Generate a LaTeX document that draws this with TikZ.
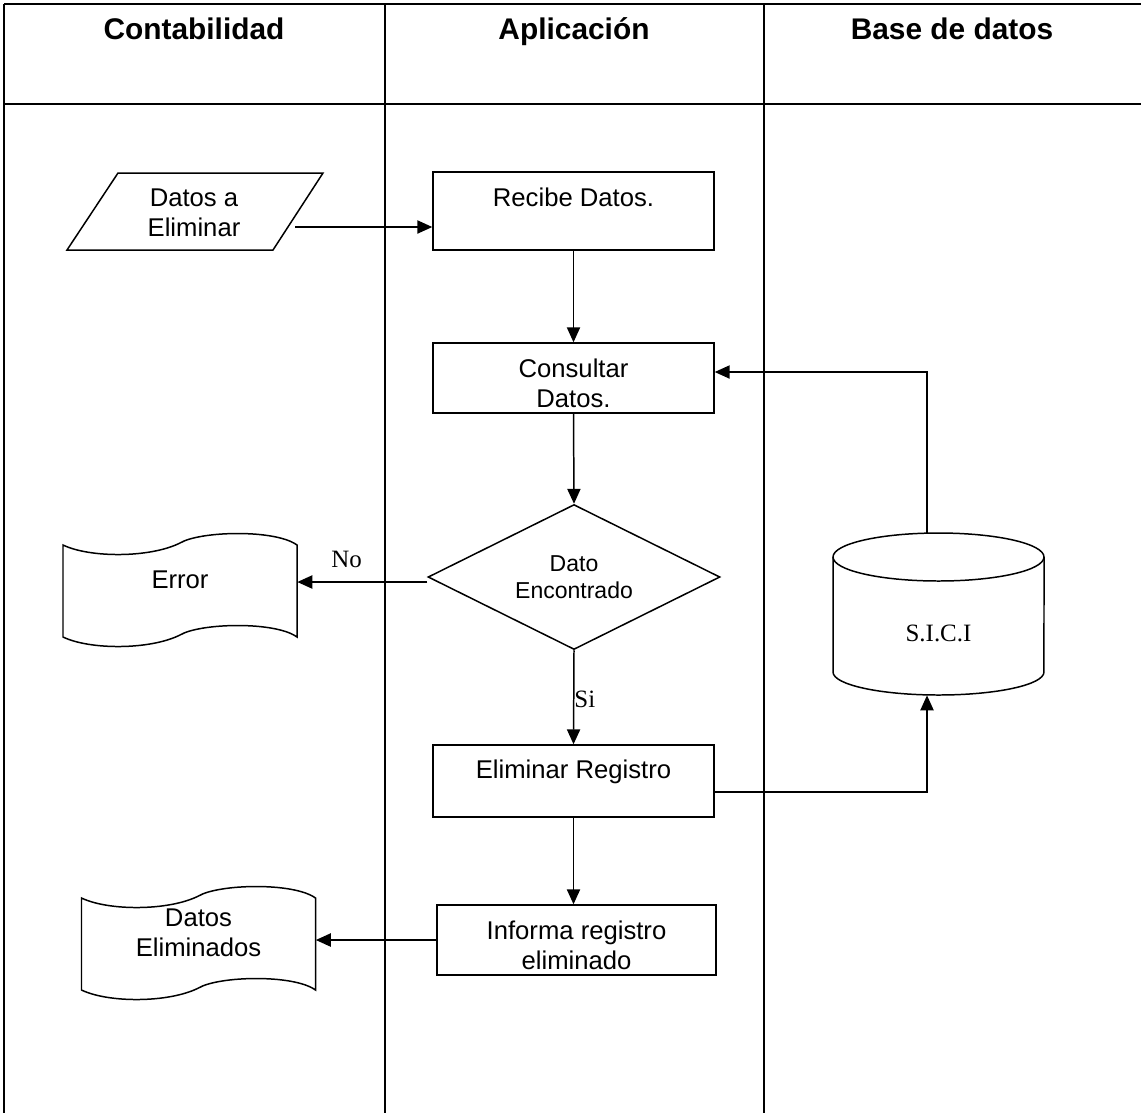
\documentclass[tikz,border=0pt]{standalone}
\usepackage{fontspec}
\setmainfont{Liberation Sans}
\newfontfamily\romana{Liberation Serif}
\usetikzlibrary{shapes.geometric, arrows.meta}

\newcommand{\letranormal}{\fontsize{14.6}{17}\selectfont}
\newcommand{\letrarombo}{\fontsize{13.1}{15.5}\selectfont}
\newcommand{\letratitulo}{\fontsize{17}{20}\selectfont\bfseries}
\newcommand{\letraromana}{\romana\fontsize{14.2}{17}\selectfont}

\tikzset{
  tabla/.style={draw, line width=1pt},
  forma/.style={draw, line width=0.85pt},
  flecha/.style={draw, line width=0.85pt, -{Triangle[length=8.5pt, width=7.5pt]}},
  caja/.style={forma, rectangle, minimum width=5.62cm, inner sep=0pt, font=\letranormal, align=center},
  hoja/.style={rectangle, minimum width=4.68cm, minimum height=1.84cm, inner sep=0pt},
  txt/.style={font=\letranormal, align=center},
  etiq/.style={font=\letraromana},
  cabecera/.style={font=\letratitulo, anchor=base},
  % hoja de documento (cinta perforada)
  cinta/.pic={
    \draw[forma] (-117,-46) .. controls (-90,-33) and (-30,-33) .. (0,-48)
      .. controls (20,-60) and (95,-62) .. (117,-46) -- (117,46)
      .. controls (95,30) and (20,32) .. (0,44)
      .. controls (-30,59) and (-90,59) .. (-117,46) -- cycle;
  },
  % base de datos
  cilindro/.pic={
    \draw[forma] (0,-57) ellipse[x radius=2.11cm, y radius=0.48cm];
    \draw[forma] (-105.5,-57) -- (-105.5,58)
      arc[start angle=180, end angle=360, x radius=2.11cm, y radius=0.46cm] -- (105.5,-57);
  },
  % entrada de datos
  paralelo/.pic={
    \draw[forma] (-76,-38.5) -- (129,-38.5) -- (79,38.5) -- (-127,38.5) -- cycle;
  }
}

\begin{document}
\begin{tikzpicture}[x=0.02cm, y=-0.02cm]
  \useasboundingbox (0,0) rectangle (1141,1113);

  % carriles
  \draw[tabla, line width=1.6pt] (4,4) -- (1141,4);
  \draw[tabla, line width=1.6pt] (4,104) -- (1141,104);
  \foreach \x in {4,385,764}
    \draw[tabla] (\x,4) -- (\x,1113);

  \node[cabecera] (contab) at (194,39) {Contabilidad};
  \node[cabecera] (aplic) at (574,39) {Aplicación};
  \node[cabecera] (basedat) at (952,39) {Base de datos};

  % formas
  \node[txt, minimum width=4.04cm, minimum height=1.54cm, inner sep=0pt] (datos) at (194,213) {Datos a\\Eliminar};
  \pic at (194,211.5) {paralelo};

  \node[caja, minimum height=1.56cm, label={[txt, yshift=0.28cm]center:Recibe Datos.}] (recibe) at (573.5,211) {};
  \node[caja, minimum height=1.4cm, label={[txt, yshift=-0.1cm]center:Consultar\\Datos.}] (consulta) at (573.5,378) {};
  \node[forma, diamond, aspect=2, minimum width=5.84cm, minimum height=2.9cm, inner sep=0pt,
        font=\letrarombo, align=center] (rombo) at (574,577) {Dato\\Encontrado};
  \node[caja, minimum height=1.44cm, label={[txt, yshift=0.18cm]center:Eliminar Registro}] (elimina) at (573.5,781) {};
  \node[caja, minimum width=5.58cm, minimum height=1.4cm, label={[txt, yshift=-0.1cm]center:Informa registro\\eliminado}] (informa) at (576.5,940) {};

  \node[hoja, label={[txt, yshift=0.22cm]center:Error}] (error) at (180,591) {};
  \pic at (error) {cinta};
  \node[hoja, label={[txt, yshift=0.22cm]center:Datos\\Eliminados}] (dateli) at (198.5,944) {};
  \pic at (dateli) {cinta};

  \node[rectangle, minimum width=4.22cm, minimum height=3.24cm, inner sep=0pt,
        label={[etiq, yshift=-0.38cm]center:S.I.C.I}] (bd) at (938.5,614) {};
  \pic at (bd) {cilindro};

  % conectores
  \draw[flecha] ([yshift=-0.28cm]datos.east) -- ([yshift=-0.28cm]datos.east -| recibe.west);
  \draw[flecha] (recibe.south) -- (consulta.north);
  \draw[flecha] (consulta.south) -- (rombo.north);
  \draw[flecha] ([yshift=-0.1cm]rombo.west) -- ([yshift=-0.1cm]rombo.west -| error.east)
    node[etiq, pos=0.62, above, yshift=0.16cm] {No};
  \draw[flecha] (rombo.south) -- (elimina.north)
    node[etiq, pos=0.52, right, inner sep=0pt] {Si};
  \draw[flecha] (elimina.south) -- (elimina.south |- informa.north);
  \draw[flecha] (informa.west) -- (informa.west -| dateli.east);
  \draw[flecha] ([yshift=-0.22cm]elimina.east) -| ([xshift=-0.23cm]bd.south);
  \draw[flecha] ([xshift=-0.23cm]bd.north) |- ([yshift=0.12cm]consulta.east);
\end{tikzpicture}
\end{document}
